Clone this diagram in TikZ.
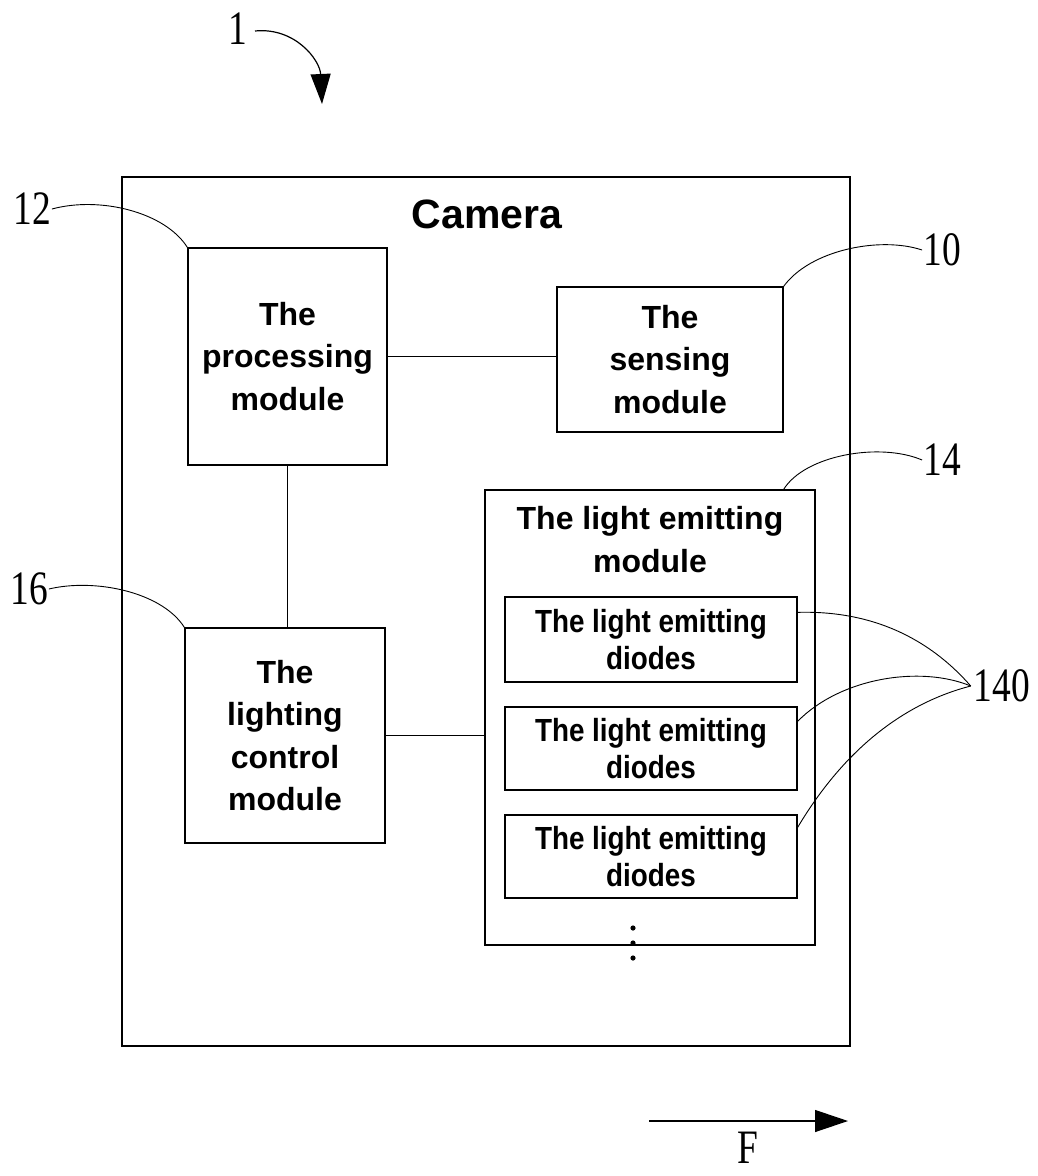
\documentclass[tikz,border=0pt]{standalone}
\usepackage{fontspec}
\setmainfont{Liberation Sans}
\newfontfamily\boxfont{Liberation Sans}
\newfontfamily\ledfont{Liberation Sans}[FakeStretch=0.87]
\newfontfamily\labfont{Liberation Serif}[FakeStretch=0.78]
\usetikzlibrary{arrows.meta,calc}
\begin{document}
\begin{tikzpicture}[x=1pt,y=-1pt,
  box/.style={draw,line width=1.3pt,rectangle,inner sep=0pt,align=center,
    font=\boxfont\bfseries\fontsize{32}{42.5}\selectfont},
  ledbox/.style={draw,line width=1.3pt,rectangle,inner sep=0pt,align=center,
    minimum width=292pt,font=\ledfont\bfseries\fontsize{32}{37}\selectfont},
  lab/.style={inner sep=1pt,font=\labfont\fontsize{48}{50}\selectfont},
  leader/.style={line width=0.9pt},
  bigarrow/.style={line width=1.2pt,-{Triangle[length=30pt,width=20pt]}}]
\useasboundingbox (0,0) rectangle (1038,1176);
% outer camera box
\node[draw,line width=1.6pt,minimum width=728pt,minimum height=869pt,inner sep=0pt] (cam) at (486,611.5) {};
\node[font=\boxfont\bfseries\fontsize{41}{44}\selectfont,inner sep=0pt] (camt) at (487,214) {Camera};
% modules
\node[box,minimum width=199pt,minimum height=217pt] (proc) at (287.5,356.5) {The\\processing\\module};
\node[box,minimum width=226pt,minimum height=145pt] (sens) at (670,359.5) {The\\sensing\\module};
\node[box,minimum width=200pt,minimum height=215pt] (light) at (285,735.5) {The\\lighting\\control\\module};
\node[draw,line width=1.3pt,minimum width=330pt,minimum height=455pt,inner sep=0pt] (lem) at (650,717.5) {};
\node[anchor=north,inner sep=0pt,align=center,font=\boxfont\bfseries\fontsize{32}{43}\selectfont] (lemt) at ([yshift=-17pt]lem.north) {The light emitting\\module};
\node[ledbox,minimum height=85pt] (led1) at (651,639.5) {The light emitting\\diodes};
\node[ledbox,minimum height=83pt] (led2) at (651,748.5) {The light emitting\\diodes};
\node[ledbox,minimum height=83pt] (led3) at (651,856.5) {The light emitting\\diodes};
\fill (633,928) circle (2.6pt) (633,943) circle (2.6pt) (633,958) circle (2.6pt);
% connections
\draw[line width=1.2pt] (proc.east) -- (sens.west |- proc.east);
\draw[line width=1.2pt] (proc.south) -- (proc.south |- light.north);
\draw[line width=1.2pt] (light.east) -- (lem.west |- light.east);
% reference labels
\node[lab] (l1) at (238,29) {1};
\node[lab] (l12) at (32,209) {12};
\node[lab] (l16) at (29,589) {16};
\node[lab] (l10) at (942,250) {10};
\node[lab] (l14) at (942,460) {14};
\node[lab] (l140) at (1002,686) {140};
\node[lab,inner sep=0pt,anchor=base] (lF) at (748,1163) {F};
% leaders
\draw[leader] (l12.east) .. controls (100,196) and (165,212) .. (proc.north west);
\draw[leader] (l16.east) .. controls (95,578) and (162,592) .. (light.north west);
\draw[leader] (l10.west) .. controls (880,236) and (810,250) .. (sens.north east);
\draw[leader] (l14.west) .. controls (880,442) and (805,455) .. ([xshift=-32pt]lem.north east);
\coordinate (p140) at ([xshift=-2pt]l140.west);
\draw[leader] ([yshift=-16pt]led1.north east) .. controls (880,610) and (935,645) .. (p140);
\draw[leader] ([yshift=-15pt]led2.north east) .. controls (840,678) and (920,665) .. (p140);
\draw[leader] ([yshift=-13pt]led3.north east) .. controls (845,748) and (905,703) .. (p140);
% arrow for 1
\coordinate (a1) at (255,31);
\coordinate (a1t) at (322,104);
\draw[bigarrow] (a1) .. controls (295,27) and (320,60) .. (a1t);
% F arrow
\coordinate (fa) at (649,1121);
\coordinate (fb) at (848,1121);
\draw[line width=1.2pt,-{Triangle[length=33pt,width=22pt]}] (fa) -- (fb);
\end{tikzpicture}
\end{document}
